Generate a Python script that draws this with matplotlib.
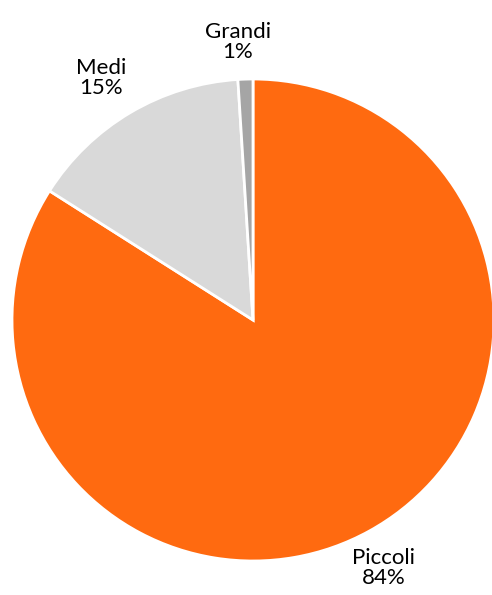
import matplotlib.pyplot as plt

# Quota per dimensione
categorie = ['Piccoli', 'Medi', 'Grandi']
valori = [84, 15, 1]
colori = ['#FF6A10', '#D9D9D9', '#A5A5A5']

plt.rcParams['font.family'] = ['Lato', 'DejaVu Sans']

fig = plt.figure(figsize=(4.92, 5.95), dpi=100)
ax = fig.add_axes([0, 0, 1, 1])

ax.pie(valori, colors=colori, startangle=90, counterclock=False,
       center=(253, 275), radius=241, frame=True,
       wedgeprops={'edgecolor': 'white', 'linewidth': 2})

# pie() resets the limits, so fix them afterwards
ax.set_xlim(0, 492)
ax.set_ylim(0, 595)
ax.set_aspect('equal')
ax.axis('off')

# etichette esterne
posizioni = {'Piccoli': (384, 27), 'Medi': (101, 517), 'Grandi': (238, 553)}
for nome, v in zip(categorie, valori):
    x, y = posizioni[nome]
    ax.text(x, y, f'{nome}\n{v}%', ha='center', va='center',
            fontsize=16, linespacing=1.05, color='black')

fig.savefig('out.png', dpi=100)
